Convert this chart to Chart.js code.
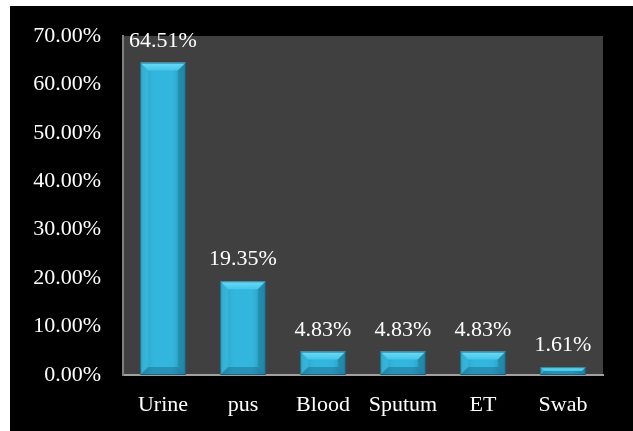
<!DOCTYPE html>
<html>
<head>
<meta charset="utf-8">
<script src="https://cdn.jsdelivr.net/npm/chart.js@4/dist/chart.umd.min.js"></script>
<style>
  html, body { margin: 0; padding: 0; background: #ffffff; }
  #wrap { position: absolute; left: 10px; top: 6px; width: 623px; height: 425px; background: #000000; }
</style>
</head>
<body>
<div id="wrap"><canvas id="myChart" width="623" height="425"></canvas></div>
<script>
const categories = ['Urine', 'pus', 'Blood', 'Sputum', 'ET', 'Swab'];
const percentValues = [64.51, 19.35, 4.83, 4.83, 4.83, 1.61];
const yTicks = [0, 10, 20, 30, 40, 50, 60, 70];

const serif = '"Liberation Serif", "Times New Roman", serif';

// dark plot background
const plotBg = {
    id: 'plotBg',
    beforeDraw(chart) {
        const { ctx, chartArea } = chart;
        ctx.save();
        ctx.fillStyle = '#404040';
        ctx.fillRect(chartArea.left, chartArea.top, chartArea.right - chartArea.left, chartArea.bottom - chartArea.top);
        ctx.restore();
    }
};

// bevel look on bars + value labels
const bevel = {
    id: 'bevel',
    afterDatasetsDraw(chart) {
        const { ctx } = chart;
        const meta = chart.getDatasetMeta(0);
        meta.data.forEach((bar, i) => {
            const l = bar.x - bar.width / 2;
            const r = bar.x + bar.width / 2;
            const t = bar.y;
            const b = bar.base;
            const h = b - t;
            const s = Math.min(8, h / 2);
            ctx.save();
            // body
            const g = ctx.createLinearGradient(l, 0, r, 0);
            g.addColorStop(0, '#2a9fc2');
            g.addColorStop(0.3, '#33b6dd');
            g.addColorStop(0.7, '#33b6dd');
            g.addColorStop(1, '#2893b5');
            ctx.fillStyle = g;
            ctx.fillRect(l, t, r - l, h);
            // top face
            const gt = ctx.createLinearGradient(0, t, 0, t + s);
            gt.addColorStop(0, '#6adcf6');
            gt.addColorStop(1, '#45c6e9');
            ctx.fillStyle = gt;
            ctx.beginPath();
            ctx.moveTo(l, t); ctx.lineTo(r, t); ctx.lineTo(r - s, t + s); ctx.lineTo(l + s, t + s); ctx.closePath();
            ctx.fill();
            // left face
            ctx.fillStyle = 'rgba(70, 200, 235, 0.35)';
            ctx.beginPath();
            ctx.moveTo(l, t); ctx.lineTo(l + s, t + s); ctx.lineTo(l + s, b - s); ctx.lineTo(l, b); ctx.closePath();
            ctx.fill();
            // right face
            ctx.fillStyle = 'rgba(20, 90, 120, 0.3)';
            ctx.beginPath();
            ctx.moveTo(r, t); ctx.lineTo(r - s, t + s); ctx.lineTo(r - s, b - s); ctx.lineTo(r, b); ctx.closePath();
            ctx.fill();
            // bottom face
            ctx.fillStyle = 'rgba(20, 80, 110, 0.35)';
            ctx.beginPath();
            ctx.moveTo(l, b); ctx.lineTo(l + s, b - s); ctx.lineTo(r - s, b - s); ctx.lineTo(r, b); ctx.closePath();
            ctx.fill();
            // dark outline
            ctx.strokeStyle = 'rgba(20, 70, 95, 0.6)';
            ctx.lineWidth = 1;
            ctx.strokeRect(l + 0.5, t + 0.5, r - l - 1, h - 1);
            // value label
            ctx.fillStyle = '#ffffff';
            ctx.font = '22px ' + serif;
            ctx.textAlign = 'center';
            ctx.textBaseline = 'alphabetic';
            ctx.fillText(percentValues[i].toFixed(2) + '%', bar.x, t - 16);
            ctx.restore();
        });
    }
};

const ctx = document.getElementById('myChart').getContext('2d');

let myChart = new Chart(ctx, {
    type: 'bar',
    data: {
        labels: categories,
        datasets: [{
            data: percentValues,
            backgroundColor: 'rgba(0,0,0,0)',
            borderWidth: 0,
            categoryPercentage: 1,
            barPercentage: 0.57
        }]
    },
    options: {
        responsive: false,
        animation: false,
        layout: { padding: { top: 30, right: 30, left: 0, bottom: 0 } },
        plugins: {
            legend: { display: false },
            tooltip: { enabled: false }
        },
        scales: {
            x: {
                grid: { display: false, drawTicks: false },
                border: { color: '#a0a0a0', width: 2 },
                ticks: {
                    color: '#ffffff',
                    font: { family: serif, size: 22 },
                    padding: 17
                },
                afterFit(scale) { scale.height = 56; scale.paddingLeft = 0; scale.paddingRight = 0; }
            },
            y: {
                min: 0,
                max: 70,
                afterBuildTicks(scale) { scale.ticks = yTicks.map(v => ({ value: v })); },
                grid: { display: false, drawTicks: false },
                border: { color: '#808080', width: 2 },
                ticks: {
                    color: '#ffffff',
                    font: { family: serif, size: 22 },
                    padding: 22,
                    callback: v => v.toFixed(2) + '%'
                },
                afterFit(scale) { scale.width = 113; scale.paddingTop = 0; scale.paddingBottom = 0; }
            }
        }
    },
    plugins: [plotBg, bevel]
});
</script>
</body>
</html>
